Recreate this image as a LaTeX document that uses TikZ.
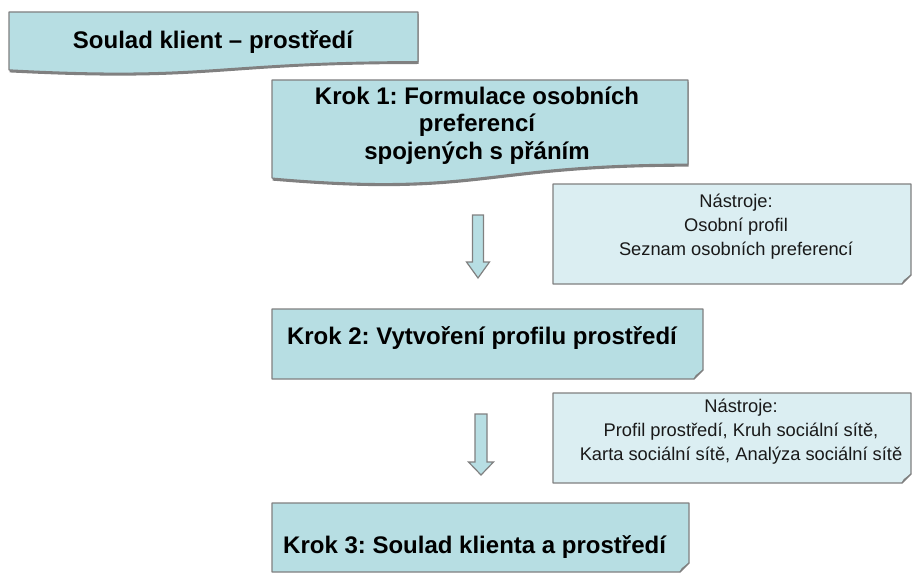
\documentclass[tikz,border=0pt]{standalone}
\usepackage{fontspec}
\setmainfont{Liberation Sans}
\frenchspacing
\definecolor{stepcol}{RGB}{183,222,227}
\definecolor{notecol}{RGB}{219,238,242}
\definecolor{edgecol}{RGB}{128,128,128}
\definecolor{foldcol}{RGB}{140,165,170}
\definecolor{textcol}{RGB}{25,25,25}

% rectangle with a folded bottom-right corner: style, x0, y0, x1, y1
\newcommand\foldedbox[5]{%
  \draw[#1] (#2,#3) -- (#4,#3) -- ([yshift=9pt]#4,#5) -- ([xshift=-9pt]#4,#5) -- (#2,#5) -- cycle;
  \filldraw[foldfill] ([xshift=-9pt]#4,#5) -- ([xshift=-7pt,yshift=3.5pt]#4,#5) -- ([yshift=9pt]#4,#5) -- cycle;
}

\tikzset{
  stepfill/.style={fill=stepcol, draw=edgecol, line width=1.2pt, line join=round},
  notefill/.style={fill=notecol, draw=edgecol, line width=1.2pt, line join=round},
  foldfill/.style={fill=foldcol, draw=edgecol, line width=0.8pt, line join=round},
  shadowfill/.style={fill=black!50, draw=none},
  bigtext/.style={font=\bfseries\fontsize{24}{27.5}\selectfont, text=black, inner sep=0pt, align=center},
  smalltext/.style={font=\fontsize{18.3}{24}\selectfont, text=textcol, inner sep=0pt, align=center},
  blockarrow/.style={fill=stepcol, draw=edgecol, line width=1.2pt, line join=miter},
}

\begin{document}
\begin{tikzpicture}[x=1pt, y=-1pt]
\useasboundingbox (0,0) rectangle (913,575);

% title: document shape with wavy bottom and a soft shadow underneath
\fill[shadowfill] (9.5,14) -- (418.5,14) -- (418.5,64)
  .. controls (214,64) and (214,83) .. (9.5,72.4) -- cycle;
\draw[stepfill] (9,12) -- (418,12) -- (418,61.7)
  .. controls (213.5,61.7) and (213.5,80.6) .. (9,69.9) -- cycle;
\node[bigtext] (title) at (213,42) {Soulad klient -- prostředí};

% step 1: document shape
\fill[shadowfill] (272.5,82) -- (688.5,82) -- (688.5,166.7)
  .. controls (480.5,166.7) and (480.5,198.7) .. (272.5,180.6) -- cycle;
\draw[stepfill] (272,80) -- (688,80) -- (688,164.2)
  .. controls (480,164.2) and (480,196.2) .. (272,178.1) -- cycle;
\node[bigtext] (step1) at (477,125.5) {Krok 1: Formulace osobních\\preferencí\\spojených s přáním};

% tools for step 1
\foldedbox{notefill}{553}{184}{911}{284}
\node[smalltext] (tools1) at (736,227) {Nástroje:\\Osobní profil\\Seznam osobních preferencí};

% arrow 1
\coordinate (a1top) at (478,215);
\coordinate (a1tip) at (478,278);
\draw[blockarrow] ([xshift=-5.5pt]a1top) -- ([xshift=5.5pt]a1top)
  -- ([xshift=5.5pt,yshift=16pt]a1tip) -- ([xshift=11.5pt,yshift=16pt]a1tip)
  -- (a1tip) -- ([xshift=-11.5pt,yshift=16pt]a1tip)
  -- ([xshift=-5.5pt,yshift=16pt]a1tip) -- cycle;

% step 2
\foldedbox{stepfill}{272}{309}{703}{379}
\node[bigtext] (step2) at (482,338) {Krok 2: Vytvoření profilu prostředí};

% tools for step 2
\foldedbox{notefill}{553}{393}{911}{483}
\node[smalltext] (tools2) at (741,432) {Nástroje:\\Profil prostředí, Kruh sociální sítě,\\Karta sociální sítě, Analýza sociální sítě};

% arrow 2
\coordinate (a2top) at (481,414);
\coordinate (a2tip) at (481,475);
\draw[blockarrow] ([xshift=-6pt]a2top) -- ([xshift=6pt]a2top)
  -- ([xshift=6pt,yshift=13pt]a2tip) -- ([xshift=12.5pt,yshift=13pt]a2tip)
  -- (a2tip) -- ([xshift=-12.5pt,yshift=13pt]a2tip)
  -- ([xshift=-6pt,yshift=13pt]a2tip) -- cycle;

% step 3
\foldedbox{stepfill}{272}{503}{689}{572}
\node[bigtext, anchor=west] (step3) at (283,547) {Krok 3: Soulad klienta a prostředí};
\end{tikzpicture}
\end{document}
